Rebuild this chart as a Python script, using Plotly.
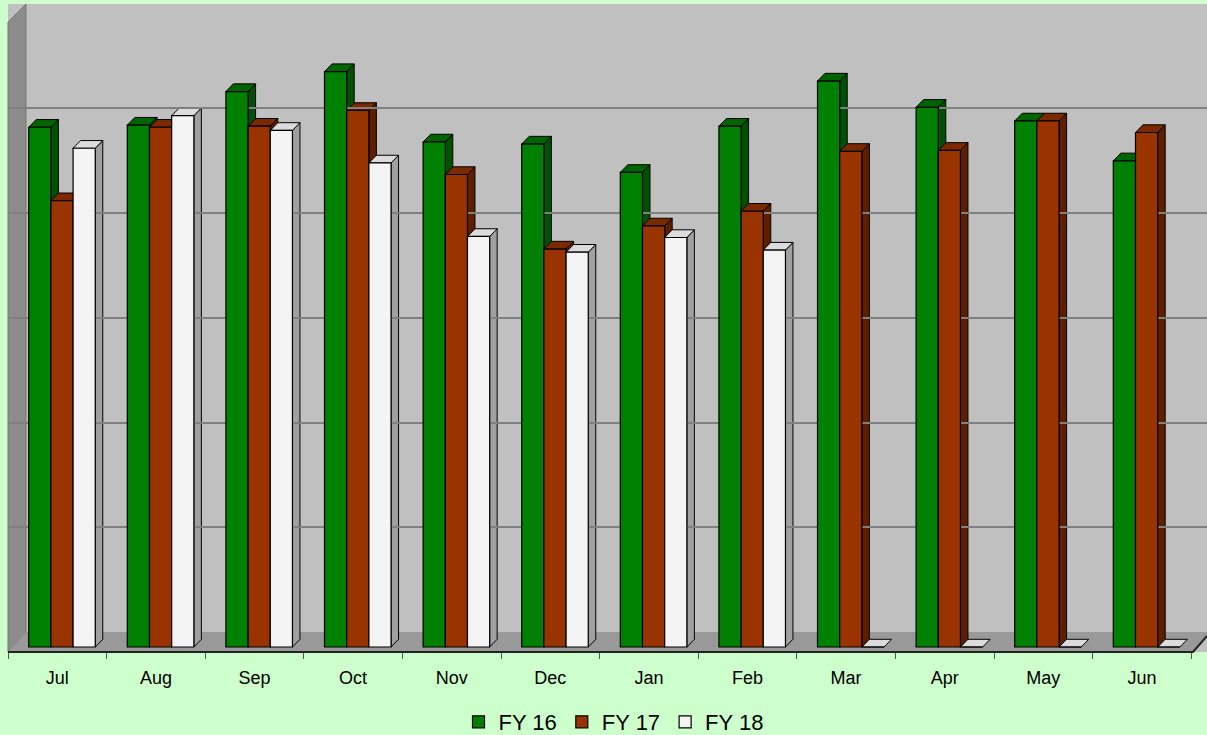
import plotly.graph_objects as go
import numpy as np

# ---- data ----
months = ["Jul", "Aug", "Sep", "Oct", "Nov", "Dec", "Jan", "Feb", "Mar", "Apr", "May", "Jun"]
fy16 = [495, 497, 529, 548, 481, 479, 452, 496, 539, 514, 501, 463]
fy17 = [425, 495, 496, 511, 450, 379, 401, 415, 472, 473, 501, 490]
fy18 = [475, 506, 492, 461, 391, 376, 390, 378, 0, 0, 0, 0]
series_names = ["FY 16", "FY 17", "FY 18"]

# ---- styling ----
W, H = 1207, 735
L, R, T, B = 8, 0, 4, 83
front_cols = ["#008000", "#993300", "#F4F4F4"]
side_cols = ["#005200", "#5E1F00", "#A0A0A0"]
top_cols = ["#006400", "#7A2900", "#DCDCDC"]

px_per_x = 98.6
px_per_y = 1.05
x_lo = -0.5
x_hi = x_lo + (W - L - R) / px_per_x
y_lo = -5 / px_per_y
y_hi = (647 - T) / px_per_y

bar_w = 0.225
group_start = -0.29
dx = 7.5 / px_per_x
dy = 7.7 / px_per_y

xs = np.arange(len(months))
series = [fy16, fy17, fy18]

plot_w = W - L - R
plot_h = H - T - B


def paper(px, py):
    return (px - L) / plot_w, (H - B - py) / plot_h


def ppath(points):
    pts = [paper(a, b) for a, b in points]
    return "M " + " L ".join(f"{a:.5f},{b:.5f}" for a, b in pts) + " Z"


shapes = []
# left wall
shapes.append(dict(type="path", xref="paper", yref="paper", layer="below",
                   path=ppath([(8, 652), (8, 22), (26, 4), (26, 632)]),
                   fillcolor="#8C8C8C", line=dict(color="#777777", width=1)))
# floor
shapes.append(dict(type="path", xref="paper", yref="paper", layer="below",
                   path=ppath([(8, 652), (26, 632), (1207, 632), (1207, 636), (1193, 652)]),
                   fillcolor="#999999", line=dict(width=0)))
# floor front edge
shapes.append(dict(type="path", xref="paper", yref="paper", layer="below",
                   path="M " + " L ".join(f"{a:.5f},{b:.5f}" for a, b in
                                         [paper(8, 652), paper(1193, 652), paper(1207, 636)]),
                   line=dict(color="#222222", width=2)))

# 3D side & top faces for each bar, computed from the data
for i in xs:
    for k, vals in enumerate(series):
        v = vals[i]
        if v is None:
            continue
        xl = i + group_start + k * bar_w
        xr = xl + bar_w
        if v > 0:
            shapes.append(dict(type="path", xref="x", yref="y", layer="below",
                               path=f"M {xr},0 L {xr+dx},{dy} L {xr+dx},{v+dy} L {xr},{v} Z",
                               fillcolor=side_cols[k], line=dict(color="black", width=1)))
        shapes.append(dict(type="path", xref="x", yref="y", layer="below",
                           path=f"M {xl},{v} L {xr},{v} L {xr+dx},{v+dy} L {xl+dx},{v+dy} Z",
                           fillcolor=top_cols[k], line=dict(color="black", width=1)))

fig = go.Figure()
for k, vals in enumerate(series):
    fig.add_trace(go.Bar(
        x=xs, y=vals, name=series_names[k],
        width=bar_w, offset=group_start + k * bar_w,
        marker=dict(color=front_cols[k], line=dict(color="black", width=1.2)),
        hoverinfo="y+name",
    ))

fig.update_layout(
    width=W, height=H,
    margin=dict(l=L, r=R, t=T, b=B),
    paper_bgcolor="#CCFFCC",
    plot_bgcolor="#C0C0C0",
    barmode="overlay",
    shapes=shapes,
    font=dict(family="Liberation Sans, Arial, sans-serif", color="black"),
    showlegend=True,
    legend=dict(orientation="h", x=0.505, xanchor="center",
                yref="container", y=13 / H, yanchor="middle",
                font=dict(size=22), bgcolor="rgba(0,0,0,0)", itemwidth=30,
                tracegroupgap=0),
    xaxis=dict(range=[x_lo, x_hi], tickmode="array", tickvals=xs, ticktext=months,
               showgrid=False, zeroline=False, showline=False, ticks="",
               tickfont=dict(size=18), ticklabelstandoff=13,
               minor=dict(tick0=-0.5, dtick=1, ticks="outside", ticklen=6,
                          tickcolor="#555555", tickwidth=1, showgrid=False)),
    yaxis=dict(range=[y_lo, y_hi], tickmode="array",
               tickvals=[114.3, 213.3, 313.3, 413.3, 513.3],
               showticklabels=False, showgrid=True, gridcolor="#808080", gridwidth=2,
               zeroline=False, showline=False, ticks=""),
)

fig.write_html(
    "out.html",
    config={"displayModeBar": False},
    post_script="document.body.style.margin='0';document.body.style.background='#CCFFCC';"
                "document.body.style.overflow='hidden';",
)
